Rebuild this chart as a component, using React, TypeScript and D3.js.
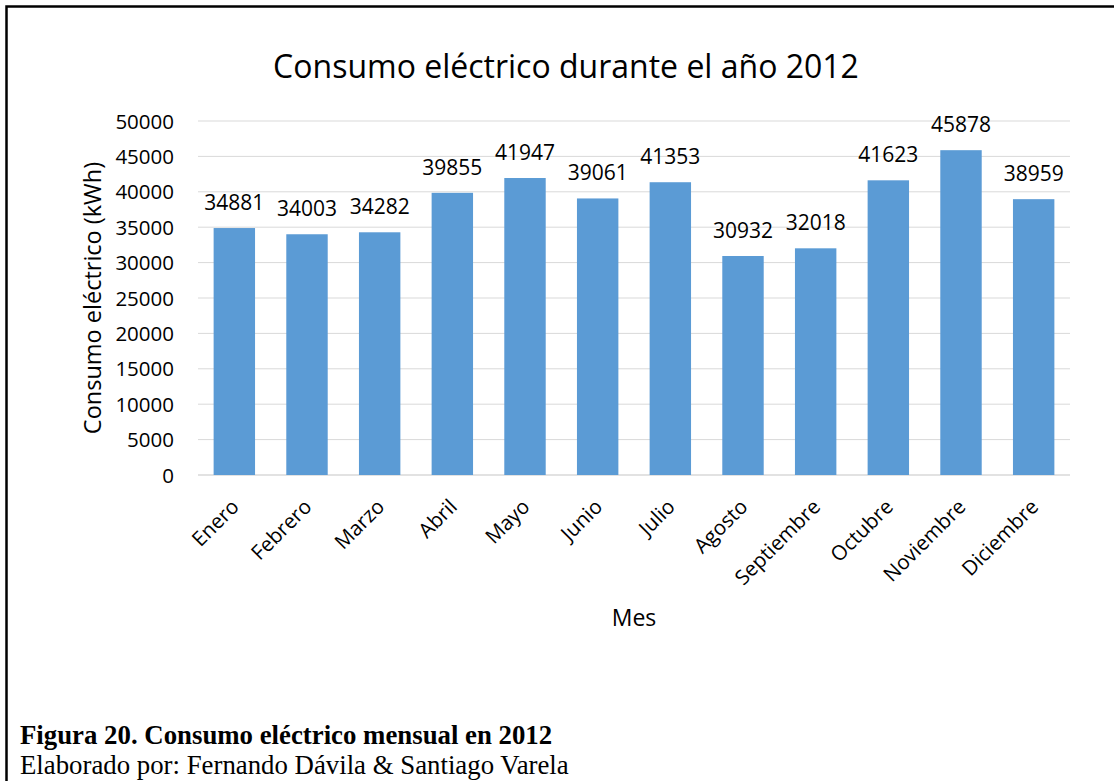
import React from "react";
import * as d3 from "d3";

const months = ["Enero","Febrero","Marzo","Abril","Mayo","Junio","Julio","Agosto","Septiembre","Octubre","Noviembre","Diciembre"];
const consumo = [34881,34003,34282,39855,41947,39061,41353,30932,32018,41623,45878,38959];
const yTicks = [0,5000,10000,15000,20000,25000,30000,35000,40000,45000,50000];

const W = 1114, H = 781;
const plot = { left: 198, right: 1070, top: 121, bottom: 475 };
const FONT = "'Open Sans', Calibri, sans-serif";
const SERIF = "'Liberation Serif', 'Times New Roman', serif";

export default function App() {
  const x = d3.scaleBand<string>().domain(months).range([plot.left, plot.right]).paddingInner(0.43).paddingOuter(0.215);
  const y = d3.scaleLinear().domain([0, 50000]).range([plot.bottom, plot.top]);
  return (
    <svg width={W} height={H} style={{ position: "absolute", left: 0, top: 0, background: "#fff" }}>
      <rect x={0} y={0} width={W} height={H} fill="#fff" />
      <rect x={6.5} y={6.5} width={W + 20} height={H + 20} fill="none" stroke="#000" strokeWidth={2.5} />
      <text x={566} y={78} textAnchor="middle" fontFamily={FONT} fontSize={32} fill="#000">Consumo eléctrico durante el año 2012</text>
      {yTicks.map((t) => (
        <g key={t}>
          <line x1={plot.left} x2={plot.right} y1={y(t)} y2={y(t)} stroke="#D9D9D9" strokeWidth={t === 0 ? 1.5 : 1} />
          <text x={174} y={y(t) + 7.5} textAnchor="end" fontFamily={FONT} fontSize={20.5} fill="#000">{t}</text>
        </g>
      ))}
      {months.map((m, i) => {
        const bx = x(m)!;
        const cx = bx + x.bandwidth() / 2;
        return (
          <g key={m}>
            <rect x={bx} y={y(consumo[i])} width={x.bandwidth()} height={plot.bottom - y(consumo[i])} fill="#5B9BD5" />
            <text x={cx} y={y(consumo[i]) - 18} textAnchor="middle" fontFamily={FONT} fontSize={21} fill="#000">{consumo[i]}</text>
            <text transform={`translate(${cx + 6},${508}) rotate(-45)`} textAnchor="end" fontFamily={FONT} fontSize={20.5} fill="#000">{m}</text>
          </g>
        );
      })}
      <text transform={`translate(101,${(plot.top + plot.bottom) / 2}) rotate(-90)`} textAnchor="middle" fontFamily={FONT} fontSize={23.5} fill="#000">Consumo eléctrico (kWh)</text>
      <text x={(plot.left + plot.right) / 2} y={626} textAnchor="middle" fontFamily={FONT} fontSize={23} fill="#000">Mes</text>
      <text x={20} y={744} fontFamily={SERIF} fontWeight="bold" fontSize={26.8} fill="#000">Figura 20. Consumo eléctrico mensual en 2012</text>
      <text x={20} y={774} fontFamily={SERIF} fontSize={26.8} fill="#000">Elaborado por: Fernando Dávila &amp; Santiago Varela</text>
    </svg>
  );
}
